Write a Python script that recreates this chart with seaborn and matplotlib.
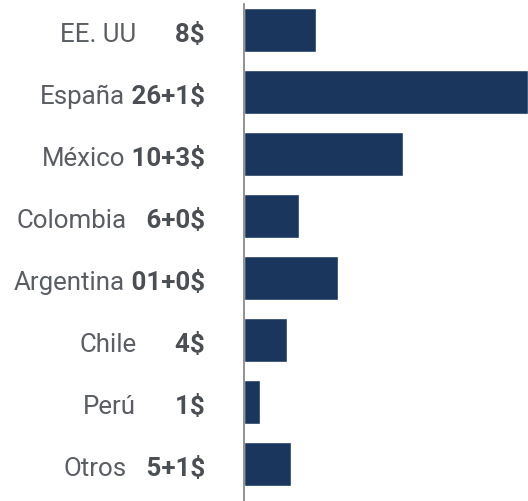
import matplotlib
matplotlib.use("Agg")
import matplotlib.pyplot as plt
from matplotlib.transforms import IdentityTransform
import seaborn as sns
import pandas as pd

# ---- data ----
categories = ["EE. UU", "España", "México", "Colombia", "Argentina", "Chile", "Perú", "Otros"]
value_labels = ["8$", "26+1$", "10+3$", "6+0$", "01+0$", "4$", "1$", "5+1$"]
bar_values = [8.0, 31.56, 17.67, 6.11, 10.44, 4.78, 1.78, 5.22]

# ---- style ----
sns.set_theme(style="white")
plt.rcParams["font.family"] = ["Roboto", "DejaVu Sans"]
BAR = "#1a365d"
NAME_C = "#5a5d62"
VAL_C = "#4b4e53"
FS = 18.6

W, H = 528, 502
fig = plt.figure(figsize=(W / 100, H / 100), dpi=100)
ax = fig.add_axes([244 / W, 0, 284 / W, 497 / H])

df = pd.DataFrame({"pais": categories, "valor": bar_values})
sns.barplot(data=df, y="pais", x="valor", orient="h", color=BAR,
            saturation=1, width=0.7, ax=ax)

ax.set_xlim(0, 284 / 9)
ax.set_ylim(7.597, -0.419)
for s in ["top", "right", "bottom"]:
    ax.spines[s].set_visible(False)
ax.spines["left"].set_color("#7f7f7f")
ax.spines["left"].set_linewidth(1.2)
ax.set_xticks([])
ax.set_yticks([])
ax.set_xlabel("")
ax.set_ylabel("")

fig.canvas.draw()
renderer = fig.canvas.get_renderer()
axes_left = ax.get_window_extent().x0
val_right = axes_left - 39

for i, (name, val) in enumerate(zip(categories, value_labels)):
    y_disp = ax.transData.transform((0, i))[1] - 11
    k = 5 - len(val)
    padded = " " * (1 + 2 * k - k // 3) + val
    t = ax.text(val_right, y_disp, padded, transform=IdentityTransform(),
                ha="right", va="baseline", fontsize=FS, fontweight="bold",
                color=VAL_C, clip_on=False)
    bb = t.get_window_extent(renderer=renderer)
    ax.text(bb.x0, y_disp, name, transform=IdentityTransform(),
            ha="right", va="baseline", fontsize=FS, color=NAME_C, clip_on=False)

fig.savefig("out.png", dpi=100)
